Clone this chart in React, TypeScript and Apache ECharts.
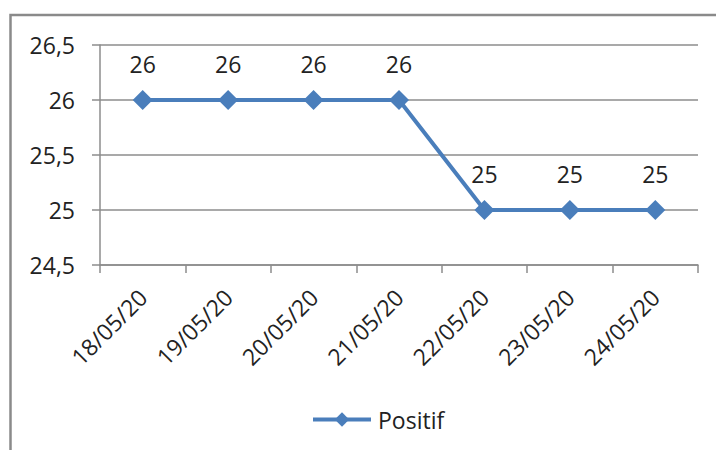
import React, { useEffect, useRef } from "react";
import * as echarts from "echarts";

const dates = ["18/05/20", "19/05/20", "20/05/20", "21/05/20", "22/05/20", "23/05/20", "24/05/20"];
const positif = [26, 26, 26, 26, 25, 25, 25];
const seriesName = "Positif";

const FONT = "'Open Sans', 'Noto Sans', sans-serif";
const BLUE = "#4a7ebb";
const GRID_GRAY = "#8c8c8c";
const TEXT = "#222";
const FS = 23;

export default function App() {
  const ref = useRef<HTMLDivElement>(null);

  useEffect(() => {
    if (!ref.current) return;
    const chart = echarts.init(ref.current, null, { renderer: "svg" });
    chart.setOption({
      animation: false,
      backgroundColor: "#ffffff",
      textStyle: { fontFamily: FONT },
      graphic: [
        {
          type: "rect",
          shape: { x: 10.5, y: 15, width: 760, height: 480 },
          style: { fill: "none", stroke: "#8a8a8a", lineWidth: 2.5 },
          silent: true,
        },
      ],
      grid: { left: 100, right: 18, top: 45, bottom: 185 },
      legend: {
        bottom: 14,
        left: 306,
        itemWidth: 58,
        itemHeight: 18,
        itemGap: 8,
        lineStyle: { width: 4 },
        itemStyle: { color: BLUE },
        textStyle: { fontFamily: FONT, fontSize: FS, color: TEXT, padding: [0, 0, 0, 2] },
        data: [seriesName],
      },
      xAxis: {
        type: "category",
        data: dates,
        boundaryGap: true,
        axisLine: { lineStyle: { color: GRID_GRAY, width: 1.5 } },
        axisTick: { show: true, length: 8, alignWithLabel: false, lineStyle: { color: GRID_GRAY, width: 1.5 } },
        axisLabel: {
          rotate: 45,
          margin: 28,
          fontFamily: FONT,
          fontSize: FS,
          color: TEXT,
          interval: 0,
        },
        splitLine: { show: false },
      },
      yAxis: {
        type: "value",
        min: 24.5,
        max: 26.5,
        interval: 0.5,
        axisLine: { show: true, lineStyle: { color: GRID_GRAY, width: 1.5 } },
        axisTick: { show: true, length: 8, lineStyle: { color: GRID_GRAY, width: 1.5 } },
        axisLabel: {
          margin: 25,
          fontFamily: FONT,
          fontSize: FS,
          color: TEXT,
          formatter: (v: number) => String(v).replace(".", ","),
        },
        splitLine: { show: true, lineStyle: { color: GRID_GRAY, width: 1.5 } },
      },
      series: [
        {
          name: seriesName,
          type: "line",
          data: positif,
          symbol: "diamond",
          symbolSize: 20,
          itemStyle: { color: BLUE },
          lineStyle: { color: BLUE, width: 4 },
          label: {
            show: true,
            position: "top",
            distance: 15,
            fontFamily: FONT,
            fontSize: FS,
            color: TEXT,
          },
        },
      ],
    });
    return () => chart.dispose();
  }, []);

  return (
    <div
      ref={ref}
      style={{ position: "fixed", left: 0, top: 0, width: 716, height: 450 }}
    />
  );
}
